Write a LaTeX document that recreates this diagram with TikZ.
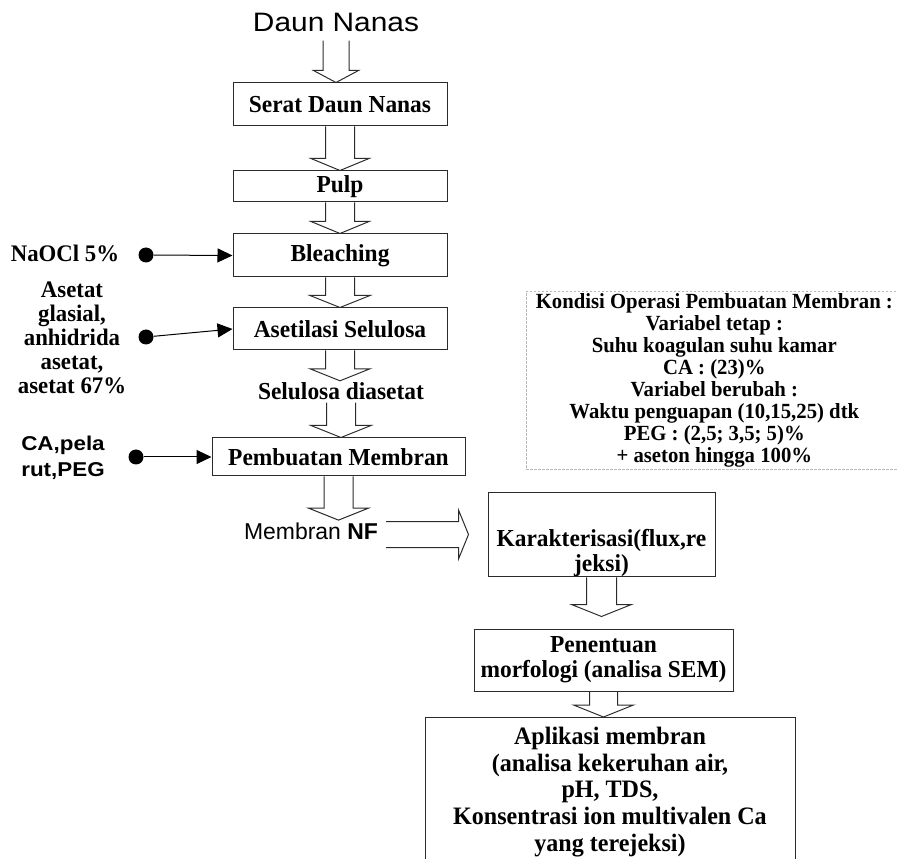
\documentclass[tikz,border=0pt]{standalone}
\usepackage{fontspec}
\setmainfont{Liberation Serif}[FakeStretch=0.96]
\newfontfamily\arialfont{Liberation Sans}
\newfontfamily\arialwide[FakeStretch=1.12]{Liberation Sans}
\usetikzlibrary{arrows.meta,calc}
\definecolor{ink}{HTML}{2B2B2B}
\definecolor{dashgrey}{HTML}{B8B8B8}
\tikzset{
  >={Triangle[length=11.25pt,width=10.5pt]},
  stepbox/.style ={draw=ink,line width=0.75pt,fill=white,align=center,
                   inner sep=0pt,font=\fontsize{18.3}{18.8}\selectfont\bfseries},
  plain/.style   ={inner sep=1.5pt,align=center},
  steplbl/.style ={plain,font=\fontsize{18.3}{18.8}\selectfont\bfseries},
  inlbl/.style   ={plain,font=\fontsize{17.8}{18}\selectfont\bfseries},
  condbox/.style ={draw=dashgrey,dash pattern=on 2pt off 1pt,line width=0.5pt,
                   align=center,inner sep=0pt,
                   font=\fontsize{16.2}{16.5}\selectfont\bfseries},
  feeddot/.style ={circle,fill=black,inner sep=0pt,minimum size=11.25pt},
  feed/.style    ={->,draw=black,line width=0.75pt},
  blockarr/.style={draw=ink,line width=0.75pt},
}
% hollow block arrow pointing down: shaft half width, head half width, from, to
\newcommand{\vblock}[4]{%
  \coordinate (vbA) at (#3);
  \coordinate (vbB) at (#3 |- #4);
  \draw[blockarr] ($(vbA)+(-#1,0)$) -- ($(vbB)+(-#1,-12)$) -- ($(vbB)+(-#2,-12)$)
    -- (vbB) -- ($(vbB)+(#2,-12)$) -- ($(vbB)+(#1,-12)$) -- ($(vbA)+(#1,0)$);}

\begin{document}
\begin{tikzpicture}[x=0.75pt,y=-0.75pt]
\useasboundingbox (0,0) rectangle (897,859);
\clip (0,0) rectangle (897,859);

% ---- main column
\node[plain,inner sep=6pt,anchor=base,font=\arialwide\fontsize{20}{21}\selectfont] (daun) at (336,32) {Daun Nanas};
\node[stepbox,minimum width=160.5pt,minimum height=32.25pt] (serat) at (340,104.5) {Serat Daun Nanas};
\node[stepbox,minimum width=160.5pt,minimum height=23.25pt] (pulp) at (340,186.5) {Pulp};
\node[stepbox,minimum width=160.5pt,minimum height=32.25pt] (bleach) at (340,255.5) {Bleaching};
\node[stepbox,minimum width=160.5pt,minimum height=31.5pt] (asetil) at (340,329) {Asetilasi Selulosa};
\node[steplbl,anchor=base] (dia) at (341,400) {Selulosa diasetat};
\node[stepbox,minimum width=189.75pt,minimum height=28.5pt] (pemb) at (338.5,457) {Pembuatan Membran};
\node[plain,anchor=base,font=\arialfont\fontsize{17.2}{18}\selectfont] (mnf) at (311,539) {Membran \textbf{NF}};

\vblock{13}{22.5}{daun.south}{serat.north}
\vblock{14.5}{29}{serat.south}{pulp.north}
\vblock{14.5}{29}{pulp.south}{bleach.north}
\vblock{14.5}{30}{bleach.south}{asetil.north}
\vblock{14.5}{30}{asetil.south}{dia.north}
\vblock{14.5}{30}{dia.south}{pemb.north}
\vblock{14.5}{30}{pemb.south}{mnf.north}

% ---- feeds on the left
\node[inlbl,anchor=base] (naocl) at (65,262) {NaOCl 5\%};
\node[inlbl] (asetat) at (72,338) {Asetat\\glasial,\\anhidrida\\asetat,\\asetat 67\%};
\node[plain,font=\arialwide\bfseries\fontsize{15}{19.5}\selectfont] (capeg) at (63,458) {CA,pela\\rut,PEG};
\node[feeddot] (dot1) at (146,255) {};
\node[feeddot] (dot2) at (146,337) {};
\node[feeddot] (dot3) at (136,457) {};
\draw[feed] (dot1) -- (bleach.west);
\draw[feed] (dot2) -- (asetil.west);
\draw[feed] (dot3) -- (pemb.west);

% ---- operating conditions
\node[condbox,anchor=west,minimum width=282pt,minimum height=133.5pt] (cond) at (526,380)
 {Kondisi Operasi Pembuatan Membran :\\
  Variabel tetap :\\
  Suhu koagulan suhu kamar\\
  CA : (23)\%\\
  Variabel berubah :\\
  Waktu penguapan (10,15,25) dtk\\
  PEG : (2,5; 3,5; 5)\%\\
  + aseton hingga 100\%};

% ---- characterisation branch
\node[stepbox,minimum width=170.25pt,minimum height=60.75pt] (kar) at (601.5,534.5)
 {\rule{0pt}{41pt}Karakterisasi(flux,re\\jeksi)};
\node[stepbox,minimum width=194.25pt,minimum height=46.5pt,
      font=\fontsize{18.3}{18.75}\selectfont\bfseries] (pen) at (603.5,660)
 {Penentuan\\morfologi (analisa SEM)};
\node[stepbox,anchor=north,minimum width=277.5pt,inner ysep=7.5pt,
      font=\fontsize{18.8}{19.9}\selectfont\bfseries] (apl) at (610,717)
 {Aplikasi membran\\(analisa kekeruhan air,\\pH, TDS,\\Konsentrasi ion multivalen Ca\\yang terejeksi)};

\coordinate (ktip) at ([xshift=-14.25pt]kar.west);
\coordinate (nfout) at ($(mnf.east |- ktip)+(6,0)$);
\draw[blockarr] ($(nfout)+(0,-13)$) -- ($(ktip)+(-10,-13)$) -- ($(ktip)+(-10,-24.5)$)
  -- (ktip) -- ($(ktip)+(-10,24.5)$) -- ($(ktip)+(-10,13)$) -- ($(nfout)+(0,13)$);
\coordinate (pentip) at ([yshift=9pt]pen.north);
\vblock{15}{30}{kar.south}{pentip}
\vblock{14}{30}{pen.south}{apl.north}
\end{tikzpicture}
\end{document}
